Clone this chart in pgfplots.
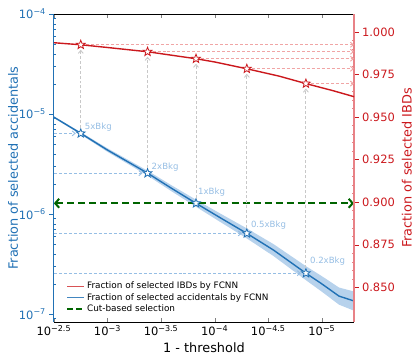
\documentclass[border=0pt]{standalone}
\usepackage{fontspec}
\setmainfont{DejaVu Sans}
\usepackage{pgfplots}
\usepackage{pgfplotstable}
\pgfplotsset{compat=1.18}
\usepgfplotslibrary{fillbetween}
\usetikzlibrary{arrows.meta}

\definecolor{blueC}{RGB}{33,113,181}
\definecolor{redC}{RGB}{203,24,29}
\definecolor{lblue}{RGB}{150,190,228}
\definecolor{lred}{RGB}{240,165,165}
\definecolor{spineRed}{RGB}{232,130,135}
\definecolor{bandC}{RGB}{170,202,233}
\definecolor{greenC}{RGB}{0,100,0}
\definecolor{greyC}{RGB}{200,200,200}

\pgfdeclareplotmark{ostar}{%
 \pgfpathmoveto{\pgfpointpolar{90}{\pgfplotmarksize}}%
 \pgfpathlineto{\pgfpointpolar{126}{0.42\pgfplotmarksize}}%
 \pgfpathlineto{\pgfpointpolar{162}{\pgfplotmarksize}}%
 \pgfpathlineto{\pgfpointpolar{198}{0.42\pgfplotmarksize}}%
 \pgfpathlineto{\pgfpointpolar{234}{\pgfplotmarksize}}%
 \pgfpathlineto{\pgfpointpolar{270}{0.42\pgfplotmarksize}}%
 \pgfpathlineto{\pgfpointpolar{306}{\pgfplotmarksize}}%
 \pgfpathlineto{\pgfpointpolar{342}{0.42\pgfplotmarksize}}%
 \pgfpathlineto{\pgfpointpolar{18}{\pgfplotmarksize}}%
 \pgfpathlineto{\pgfpointpolar{54}{0.42\pgfplotmarksize}}%
 \pgfpathclose
 \pgfusepathqfillstroke}

% x = -log10(1 - threshold)
\pgfplotstableread{
x     y        lo       hi
2.5   9.3e-6   9.13e-6  9.47e-6
2.751 6.4e-6   6.23e-6  6.58e-6
3.0   4.36e-6  4.18e-6  4.54e-6
3.374 2.56e-6  2.42e-6  2.71e-6
3.6   1.80e-6  1.68e-6  1.93e-6
3.826 1.28e-6  1.18e-6  1.39e-6
4.05  9.2e-7   8.35e-7  1.014e-6
4.300 6.4e-7   5.70e-7  7.18e-7
4.55  4.35e-7  3.79e-7  4.99e-7
4.851 2.56e-7  2.18e-7  3.01e-7
5.0   2.0e-7   1.67e-7  2.39e-7
5.16  1.51e-7  1.24e-7  1.84e-7
5.3   1.35e-7  1.08e-7  1.68e-7
}\accid

\pgfplotstableread{
x     y
2.5   0.9936
2.751 0.9924
3.0   0.9908
3.374 0.9883
3.826 0.9842
4.0   0.9823
4.300 0.9783
4.6   0.9740
4.851 0.9696
5.1   0.9655
5.3   0.9619
}\ibd

\begin{document}
\begin{tikzpicture}
\begin{axis}[
  scale only axis, width=301pt, height=309pt,
  xmin=2.5, xmax=5.3, ymode=log, ymin=8.3e-8, ymax=1e-4,
  axis y line*=left, clip=false,
  xtick={2.5,3,3.5,4,4.5,5},
  xticklabels={10\textsuperscript{−2.5},10\textsuperscript{−3},10\textsuperscript{−3.5},10\textsuperscript{−4},10\textsuperscript{−4.5},10\textsuperscript{−5}},
  xtick align=inside,
  ytick={1e-7,1e-6,1e-5,1e-4},
  yticklabels={10\textsuperscript{−7},10\textsuperscript{−6},10\textsuperscript{−5},10\textsuperscript{−4}},
  minor ytick={9e-8,2e-7,3e-7,4e-7,5e-7,6e-7,7e-7,8e-7,9e-7,2e-6,3e-6,4e-6,5e-6,6e-6,7e-6,8e-6,9e-6,2e-5,3e-5,4e-5,5e-5,6e-5,7e-5,8e-5,9e-5},
  ytick align=outside,
  major tick length=4.5pt, minor tick length=2.5pt,
  ytick style={blueC},
  every minor y tick/.append style={xshift=2.5pt,blueC},
  y axis line style={blueC, line width=1pt},
  tick label style={font=\fontsize{11.5}{13}\selectfont},
  yticklabel style={blueC},
  xlabel={1 - threshold}, ylabel={Fraction of selected accidentals},
  label style={font=\fontsize{12.9}{15}\selectfont},
  ylabel style={blueC}, ylabel shift=-6pt,
]
\coordinate (SW) at (rel axis cs:0,0);
% arrows from left axis to the stars
\addplot[lblue, dash pattern=on 3pt off 2pt, line width=0.9pt, -{Straight Barb[length=3pt,width=5pt]}, shorten >=5pt] coordinates {(2.5,6.4e-6) (2.751,6.4e-6)};
\addplot[lblue, dash pattern=on 3pt off 2pt, line width=0.9pt, -{Straight Barb[length=3pt,width=5pt]}, shorten >=5pt] coordinates {(2.5,2.56e-6) (3.374,2.56e-6)};
\addplot[lblue, dash pattern=on 3pt off 2pt, line width=0.9pt, -{Straight Barb[length=3pt,width=5pt]}, shorten >=5pt] coordinates {(2.5,6.4e-7) (4.300,6.4e-7)};
\addplot[lblue, dash pattern=on 3pt off 2pt, line width=0.9pt, -{Straight Barb[length=3pt,width=5pt]}, shorten >=5pt] coordinates {(2.5,2.56e-7) (4.851,2.56e-7)};
% band
\addplot[name path=lo, draw=none, forget plot] table[x=x,y=lo]{\accid};
\addplot[name path=hi, draw=none, forget plot] table[x=x,y=hi]{\accid};
\addplot[bandC, fill opacity=0.85, draw=none] fill between[of=lo and hi];
% line
\addplot[blueC, line width=1.4pt] table[x=x,y=y]{\accid};
% cut-based
\addplot[greenC, line width=2pt, dash pattern=on 7pt off 4pt, {Straight Barb[length=4pt,width=9pt]}-{Straight Barb[length=4pt,width=9pt]}] coordinates {(2.5,1.28e-6) (5.3,1.28e-6)};
% stars
\addplot[only marks, mark=ostar, mark size=4.6pt, mark options={fill=white, draw=blueC, line width=0.8pt}] coordinates {(2.751,6.4e-6) (3.374,2.56e-6) (3.826,1.28e-6) (4.300,6.4e-7) (4.851,2.56e-7)};
\coordinate (b1) at (axis cs:2.751,6.4e-6);
\coordinate (b2) at (axis cs:3.374,2.56e-6);
\coordinate (b3) at (axis cs:3.826,1.28e-6);
\coordinate (b4) at (axis cs:4.300,6.4e-7);
\coordinate (b5) at (axis cs:4.851,2.56e-7);
\begin{scope}[every node/.style={anchor=south west, inner sep=1pt, text=lblue, font=\fontsize{8.6}{10}\selectfont}]
\node[xshift=3pt,yshift=1pt] at (axis cs:2.751,6.4e-6) {5xBkg};
\node[xshift=3pt,yshift=1pt] at (axis cs:3.374,2.56e-6) {2xBkg};
\node[xshift=1pt,yshift=6pt] at (axis cs:3.826,1.28e-6) {1xBkg};
\node[xshift=3pt,yshift=3pt] at (axis cs:4.300,6.4e-7) {0.5xBkg};
\node[xshift=3pt,yshift=7pt] at (axis cs:4.851,2.56e-7) {0.2xBkg};
\end{scope}
\end{axis}

\begin{axis}[
  scale only axis, width=301pt, height=309pt,
  xmin=2.5, xmax=5.3, ymin=0.8295, ymax=1.0105,
  axis y line*=right, axis x line=none, clip=false,
  ytick={0.85,0.875,0.9,0.925,0.95,0.975,1.0},
  minor y tick num=4,
  ytick align=outside,
  major tick length=4.5pt, minor tick length=2.5pt,
  ytick style={redC},
  every minor y tick/.append style={xshift=-2.5pt,spineRed},
  y axis line style={spineRed, line width=1.2pt},
  tick label style={font=\fontsize{11.5}{13}\selectfont},
  yticklabel style={redC, /pgf/number format/fixed, /pgf/number format/fixed zerofill, /pgf/number format/precision=3, /pgf/number format/assume math mode=true},
  ylabel={Fraction of selected IBDs},
  label style={font=\fontsize{12.9}{15}\selectfont},
  ylabel style={redC},
  legend style={at={(0.03,0.015)}, anchor=south west, draw=none, fill=none, font=\fontsize{8.9}{10.5}\selectfont, row sep=-0.8pt},
  legend cell align=left,
]
\draw[greyC, dash pattern=on 3pt off 2pt, line width=0.9pt, -{Straight Barb[length=3pt,width=5pt]}, shorten <=5pt, shorten >=5pt] (b1) -- (axis cs:2.751,0.9924);
\draw[greyC, dash pattern=on 3pt off 2pt, line width=0.9pt, -{Straight Barb[length=3pt,width=5pt]}, shorten <=5pt, shorten >=5pt] (b2) -- (axis cs:3.374,0.9883);
\draw[greyC, dash pattern=on 3pt off 2pt, line width=0.9pt, -{Straight Barb[length=3pt,width=5pt]}, shorten <=5pt, shorten >=5pt] (b3) -- (axis cs:3.826,0.9842);
\draw[greyC, dash pattern=on 3pt off 2pt, line width=0.9pt, -{Straight Barb[length=3pt,width=5pt]}, shorten <=5pt, shorten >=5pt] (b4) -- (axis cs:4.300,0.9783);
\draw[greyC, dash pattern=on 3pt off 2pt, line width=0.9pt, -{Straight Barb[length=3pt,width=5pt]}, shorten <=5pt, shorten >=5pt] (b5) -- (axis cs:4.851,0.9696);
\addplot[lred, dash pattern=on 3pt off 2pt, line width=0.9pt, -{Straight Barb[length=3pt,width=5pt]}, shorten <=5pt, forget plot] coordinates {(2.751,0.9924) (5.3,0.9924)};
\addplot[lred, dash pattern=on 3pt off 2pt, line width=0.9pt, -{Straight Barb[length=3pt,width=5pt]}, shorten <=5pt, forget plot] coordinates {(3.374,0.9883) (5.3,0.9883)};
\addplot[lred, dash pattern=on 3pt off 2pt, line width=0.9pt, -{Straight Barb[length=3pt,width=5pt]}, shorten <=5pt, forget plot] coordinates {(3.826,0.9842) (5.3,0.9842)};
\addplot[lred, dash pattern=on 3pt off 2pt, line width=0.9pt, -{Straight Barb[length=3pt,width=5pt]}, shorten <=5pt, forget plot] coordinates {(4.300,0.9783) (5.3,0.9783)};
\addplot[lred, dash pattern=on 3pt off 2pt, line width=0.9pt, -{Straight Barb[length=3pt,width=5pt]}, shorten <=5pt, forget plot] coordinates {(4.851,0.9696) (5.3,0.9696)};
\addplot[redC, line width=1.4pt, forget plot] table[x=x,y=y]{\ibd};
\addplot[only marks, mark=ostar, mark size=4.6pt, mark options={fill=white, draw=redC, line width=0.8pt}, forget plot] coordinates {(2.751,0.9924) (3.374,0.9883) (3.826,0.9842) (4.300,0.9783) (4.851,0.9696)};
\addlegendimage{redC!75, line width=1.4pt}
\addlegendentry{Fraction of selected IBDs by FCNN}
\addlegendimage{blueC!85, line width=1.4pt}
\addlegendentry{Fraction of selected accidentals by FCNN}
\addlegendimage{greenC, line width=2pt, dash pattern=on 6pt off 3pt}
\addlegendentry{Cut-based selection}
\end{axis}
\path (SW) ++(-54pt,-40pt) rectangle ++(415pt,363pt);
\end{tikzpicture}
\end{document}
